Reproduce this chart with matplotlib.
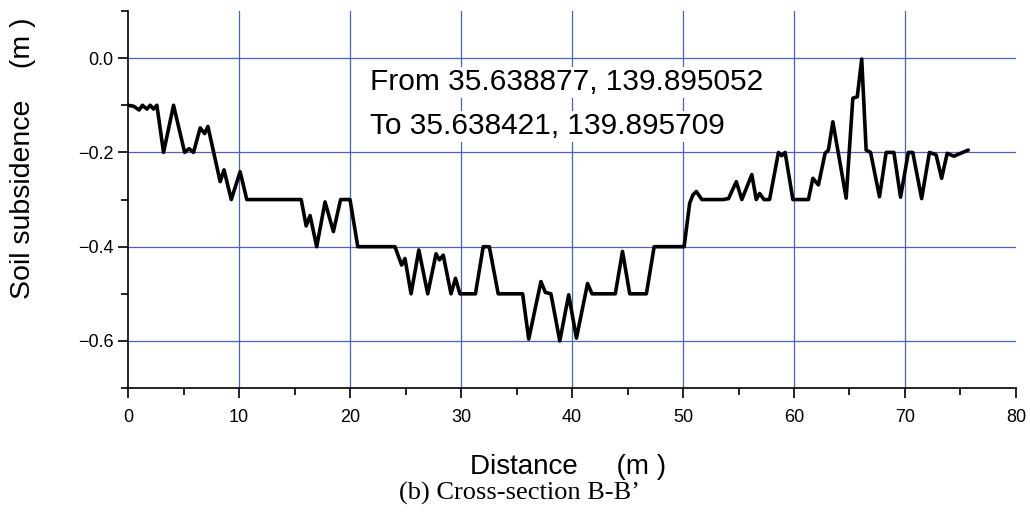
import matplotlib
matplotlib.use("Agg")
import matplotlib.pyplot as plt
from matplotlib.ticker import MultipleLocator

# profile along B-B' (distance in m, subsidence in m)
distance = [0.0, 0.5, 1.0, 1.3, 1.7, 2.0, 2.3, 2.6, 3.2, 4.1, 5.1, 5.5, 5.9, 6.5,
            6.9, 7.2, 8.3, 8.65, 9.3, 10.1, 10.7, 15.6, 16.05, 16.4, 17.0, 17.75,
            18.5, 19.15, 20.0, 20.7, 24.05, 24.65, 24.95, 25.5, 26.2, 27.0, 27.75,
            28.05, 28.4, 29.1, 29.5, 29.9, 31.3, 32.0, 32.55, 33.35, 35.55, 36.1,
            37.2, 37.6, 38.1, 38.9, 39.7, 40.4, 41.4, 41.8, 43.9, 44.55, 45.2,
            46.7, 47.4, 50.1, 50.6, 50.9, 51.2, 51.7, 53.6, 54.1, 54.8, 55.3, 56.2,
            56.6, 56.9, 57.3, 57.8, 58.6, 58.9, 59.2, 59.9, 61.3, 61.7, 62.2, 62.8,
            63.1, 63.5, 64.7, 65.3, 65.7, 66.1, 66.5, 66.9, 67.7, 68.3, 69.0, 69.6,
            70.3, 70.7, 71.5, 72.2, 72.8, 73.3, 73.8, 74.4, 75.0, 75.7]
subsidence = [-0.100, -0.102, -0.110, -0.100, -0.108, -0.100, -0.108, -0.100, -0.200,
              -0.100, -0.200, -0.192, -0.200, -0.148, -0.160, -0.145, -0.262, -0.237,
              -0.300, -0.241, -0.300, -0.300, -0.356, -0.334, -0.400, -0.305, -0.368,
              -0.300, -0.300, -0.400, -0.400, -0.439, -0.425, -0.500, -0.407, -0.500,
              -0.415, -0.428, -0.418, -0.500, -0.467, -0.500, -0.500, -0.400, -0.400,
              -0.500, -0.500, -0.596, -0.474, -0.497, -0.500, -0.600, -0.502, -0.594,
              -0.478, -0.500, -0.500, -0.410, -0.500, -0.500, -0.400, -0.400, -0.308,
              -0.290, -0.283, -0.300, -0.300, -0.298, -0.262, -0.300, -0.247, -0.300,
              -0.287, -0.300, -0.300, -0.200, -0.207, -0.200, -0.300, -0.300, -0.255,
              -0.269, -0.202, -0.195, -0.135, -0.297, -0.085, -0.082, -0.002, -0.195,
              -0.200, -0.294, -0.200, -0.200, -0.295, -0.200, -0.200, -0.298, -0.200,
              -0.205, -0.255, -0.202, -0.208, -0.202, -0.195]

start_label = "From 35.638877, 139.895052"
end_label = "To 35.638421, 139.895709"
caption = "(b) Cross-section B-B\u2019"

plt.rcParams["font.family"] = ["Liberation Sans", "DejaVu Sans"]

fig = plt.figure(figsize=(10.3, 5.12), dpi=100)
ax = fig.add_axes([0.1243, 0.242, 0.8621, 0.7365])

grid_blue = "#4a64b4"
ax.plot(distance, subsidence, color="black", lw=2.6, solid_joinstyle="round",
        solid_capstyle="round", zorder=3)

ax.set_xlim(0, 80)
ax.set_ylim(-0.7, 0.1)
ax.xaxis.set_major_locator(MultipleLocator(10))
ax.xaxis.set_minor_locator(MultipleLocator(5))
ax.yaxis.set_minor_locator(MultipleLocator(0.1))
ax.set_yticks([0.0, -0.2, -0.4, -0.6])
ax.set_yticklabels(["0.0", "\u22120.2", "\u22120.4", "\u22120.6"])

for x in range(10, 80, 10):
    ax.axvline(x, color=grid_blue, lw=0.9, zorder=1)
for y in [0.0, -0.2, -0.4, -0.6]:
    ax.axhline(y, color=grid_blue, lw=0.9, zorder=1)

ax.spines["top"].set_visible(False)
ax.spines["right"].set_visible(False)
ax.spines["left"].set_linewidth(1.2)
ax.spines["bottom"].set_linewidth(1.2)
ax.tick_params(which="major", direction="out", length=7, width=1.2, labelsize=13)
ax.tick_params(which="minor", direction="out", length=5, width=1.2)
ax.tick_params(axis="x", pad=8)

# axis titles placed as figure text so they sit where the original puts them
fig.text(0.552, 0.088, "Distance     (m )", fontsize=20, ha="center", va="center")
fig.text(0.022, 0.69, "Soil subsidence    (m )", fontsize=20.5, rotation=90,
         ha="center", va="center")

box = dict(facecolor="white", edgecolor="none", pad=1)
ax.text(21.8, -0.051, start_label, fontsize=21.5, va="center", ha="left",
        bbox=box, zorder=2)
ax.text(21.8, -0.144, end_label, fontsize=21.5, va="center", ha="left",
        bbox=box, zorder=2)

fig.text(0.504, 0.037, caption, fontsize=19, family="Liberation Serif",
         ha="center", va="center")

fig.savefig("out.png", dpi=100)
